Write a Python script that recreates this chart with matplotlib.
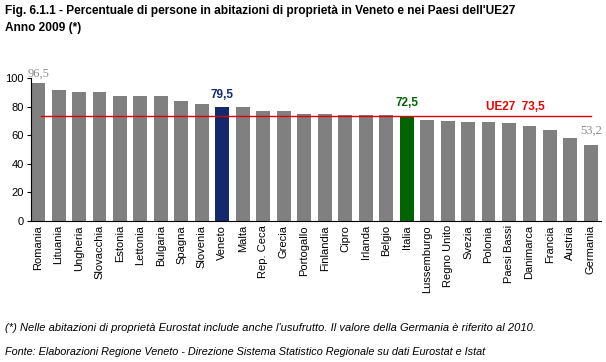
import matplotlib.pyplot as plt

paesi = ['Romania', 'Lituania', 'Ungheria', 'Slovacchia', 'Estonia', 'Lettonia',
         'Bulgaria', 'Spagna', 'Slovenia', 'Veneto', 'Malta', 'Rep. Ceca', 'Grecia',
         'Portogallo', 'Finlandia', 'Cipro', 'Irlanda', 'Belgio', 'Italia',
         'Lussemburgo', 'Regno Unito', 'Svezia', 'Polonia', 'Paesi Bassi',
         'Danimarca', 'Francia', 'Austria', 'Germania']
valori = [96.5, 91.6, 90.2, 90.1, 87.4, 87.3, 87.3, 83.9, 81.8, 79.5, 79.5, 76.9,
          76.8, 74.8, 74.8, 74.1, 74.0, 74.0, 72.5, 70.6, 70.1, 69.5, 69.0, 68.5,
          66.4, 63.6, 58.0, 53.2]
ue27 = 73.5

plt.rcParams['font.family'] = ['Liberation Sans', 'DejaVu Sans']

colori = []
for p in paesi:
    if p == 'Veneto':
        colori.append('#14286e')
    elif p == 'Italia':
        colori.append('#006400')
    else:
        colori.append('#808080')

fig = plt.figure(figsize=(6.06, 3.62), dpi=100)
ax = fig.add_axes([0.051, 0.3895, 0.941, 0.395])

x = range(len(paesi))
ax.bar(x, valori, width=0.68, color=colori, zorder=2)
ax.plot([0.15, len(paesi) - 1], [ue27, ue27], color='#dd0000', lw=1, zorder=3)

ax.set_xlim(-0.35, len(paesi) - 0.5)
ax.set_ylim(0, 100)
ax.set_yticks(range(0, 101, 20))
ax.set_xticks(list(x))
ax.set_xticklabels(paesi, rotation=90, fontsize=8)
ax.tick_params(axis='y', labelsize=8, length=3, pad=2)
ax.tick_params(axis='x', length=0, pad=3)
ax.spines['top'].set_visible(False)
ax.spines['right'].set_visible(False)

# etichette dei valori
ax.text(0, valori[0] + 2.5, '96,5', ha='center', va='bottom', color='#8c8c8c',
        fontsize=9, family=['Liberation Serif', 'DejaVu Serif'])
iv = paesi.index('Veneto')
ax.text(iv, valori[iv] + 4.5, '79,5', ha='center', va='bottom', color='#14286e',
        fontsize=8.5, fontweight='bold')
ii = paesi.index('Italia')
ax.text(ii, valori[ii] + 5.5, '72,5', ha='center', va='bottom', color='#006400',
        fontsize=8.5, fontweight='bold')
ax.text(21.9, ue27 + 2.3, 'UE27  73,5', ha='left', va='bottom', color='#ee0000',
        fontsize=8.5, fontweight='bold')
ax.text(len(paesi) - 1, valori[-1] + 6, '53,2', ha='center', va='bottom', color='#8c8c8c',
        fontsize=9, family=['Liberation Serif', 'DejaVu Serif'])

fig.text(0.008, 0.985, "Fig. 6.1.1 - Percentuale di persone in abitazioni di proprietà in Veneto e nei Paesi dell'UE27",
         fontsize=8.6, fontweight='bold', va='top')
fig.text(0.008, 0.94, 'Anno 2009 (*)', fontsize=8.6, fontweight='bold', va='top')
fig.text(0.008, 0.095, "(*) Nelle abitazioni di proprietà Eurostat include anche l'usufrutto. Il valore della Germania è riferito al 2010.",
         fontsize=8, style='italic', va='center')
fig.text(0.008, 0.027, 'Fonte: Elaborazioni Regione Veneto - Direzione Sistema Statistico Regionale su dati Eurostat e Istat',
         fontsize=7.8, style='italic', va='center')

fig.savefig('out.png', dpi=100)
